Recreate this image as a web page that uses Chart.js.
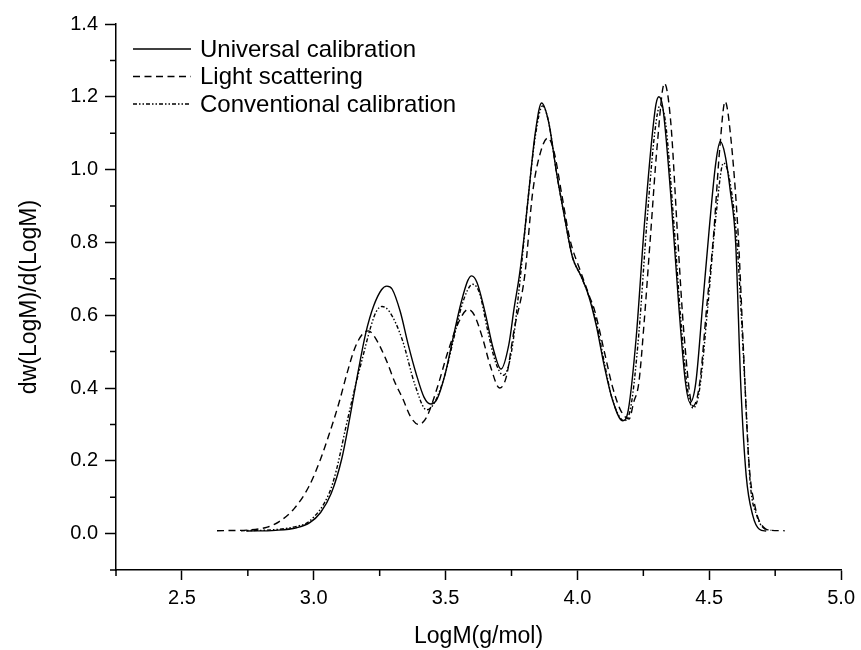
<!DOCTYPE html>
<html>
<head>
<meta charset="utf-8">
<script src="https://cdn.jsdelivr.net/npm/chart.js@4.4.0/dist/chart.umd.min.js"></script>
<style>
  html, body { margin: 0; padding: 0; background: #fff; }
  #wrap { width: 861px; height: 650px; }
</style>
</head>
<body>
<div id="wrap"><canvas id="chart" width="861" height="650"></canvas></div>
<script>
// series names (legend)
const seriesNames = ['Universal calibration', 'Light scattering', 'Conventional calibration'];

// Universal calibration (solid)
const universalX = [2.744, 2.855, 2.935, 2.985, 3.026, 3.066, 3.106, 3.136, 3.167, 3.197, 3.227, 3.257, 3.277, 3.297, 3.328, 3.358, 3.388, 3.418, 3.443,
  3.468, 3.499, 3.529, 3.559, 3.584, 3.599, 3.619, 3.649, 3.680, 3.710, 3.740, 3.760, 3.780, 3.800, 3.820, 3.840, 3.864, 3.891, 3.921, 3.951, 3.981,
  4.012, 4.042, 4.072, 4.102, 4.132, 4.171, 4.193, 4.223, 4.253, 4.283, 4.298, 4.309, 4.324, 4.354, 4.384, 4.409, 4.427, 4.449, 4.474, 4.499,
  4.525, 4.542, 4.560, 4.580, 4.600, 4.620, 4.640, 4.665, 4.690, 4.716];
const universalY = [0.007, 0.009, 0.016, 0.030, 0.058, 0.110, 0.205, 0.315, 0.440, 0.550, 0.625, 0.670, 0.680, 0.672, 0.610, 0.520, 0.440, 0.375, 0.356,
  0.370, 0.440, 0.540, 0.635, 0.695, 0.708, 0.690, 0.610, 0.510, 0.452, 0.520, 0.620, 0.710, 0.830, 0.970, 1.100, 1.183, 1.130, 0.990, 0.870, 0.760,
  0.710, 0.655, 0.570, 0.460, 0.370, 0.310, 0.340, 0.540, 0.840, 1.090, 1.180, 1.200, 1.170, 0.930, 0.630, 0.420, 0.360, 0.415, 0.620, 0.830,
  1.020, 1.077, 1.040, 0.940, 0.800, 0.400, 0.160, 0.050, 0.012, 0.007];

// Light scattering (dashed)
const lightX = [2.633, 2.754, 2.824, 2.869, 2.925, 2.982, 3.026, 3.058, 3.096, 3.126, 3.156, 3.187, 3.207, 3.227, 3.273, 3.308, 3.338, 3.368, 3.398,
  3.428, 3.468, 3.509, 3.549, 3.586, 3.609, 3.639, 3.670, 3.705, 3.730, 3.760, 3.800, 3.830, 3.861, 3.888, 3.911, 3.941, 3.971, 4.012, 4.045, 4.064,
  4.102, 4.132, 4.163, 4.196, 4.213, 4.233, 4.253, 4.277, 4.303, 4.330, 4.354, 4.380, 4.404, 4.438, 4.464, 4.490, 4.516, 4.540, 4.560, 4.580,
  4.610, 4.630, 4.650, 4.675, 4.705, 4.735, 4.786];
const lightY = [0.008, 0.010, 0.018, 0.033, 0.068, 0.130, 0.205, 0.272, 0.360, 0.440, 0.510, 0.550, 0.557, 0.545, 0.480, 0.415, 0.370, 0.320, 0.300,
  0.320, 0.400, 0.500, 0.580, 0.616, 0.600, 0.540, 0.460, 0.400, 0.430, 0.560, 0.708, 0.936, 1.050, 1.087, 1.050, 0.930, 0.810, 0.720, 0.653, 0.616,
  0.500, 0.406, 0.340, 0.315, 0.360, 0.415, 0.580, 0.817, 1.070, 1.237, 1.130, 0.817, 0.550, 0.350, 0.415, 0.620, 0.817, 1.060, 1.187, 1.100,
  0.817, 0.500, 0.200, 0.070, 0.018, 0.009, 0.008];

// Conventional calibration (dash-dot-dot)
const convX = [2.724, 2.855, 2.935, 2.985, 3.058, 3.086, 3.121, 3.156, 3.184, 3.217, 3.237, 3.259, 3.287, 3.335, 3.385, 3.428, 3.458, 3.499, 3.529,
  3.559, 3.584, 3.602, 3.629, 3.659, 3.690, 3.720, 3.750, 3.780, 3.810, 3.840, 3.868, 3.891, 3.921, 3.951, 3.981, 4.012, 4.042, 4.072, 4.102, 4.132,
  4.178, 4.203, 4.233, 4.263, 4.293, 4.314, 4.334, 4.364, 4.394, 4.419, 4.439, 4.464, 4.494, 4.525, 4.554, 4.575, 4.605, 4.635, 4.655, 4.680,
  4.705, 4.735];
const convY = [0.008, 0.011, 0.020, 0.035, 0.110, 0.175, 0.290, 0.400, 0.480, 0.570, 0.610, 0.624, 0.610, 0.534, 0.406, 0.340, 0.360, 0.440, 0.530,
  0.620, 0.670, 0.685, 0.660, 0.560, 0.470, 0.435, 0.500, 0.680, 0.900, 1.090, 1.175, 1.130, 0.990, 0.870, 0.760, 0.710, 0.655, 0.580, 0.470, 0.370,
  0.310, 0.350, 0.550, 0.850, 1.100, 1.178, 1.130, 0.870, 0.570, 0.390, 0.345, 0.400, 0.620, 0.870, 1.018, 0.980, 0.800, 0.415, 0.142, 0.050,
  0.016, 0.009];

// axis ranges
const xMin = 2.25, xMax = 5.0, xStep = 0.25;
const yMin = -0.1, yMax = 1.4, yStep = 0.1;

const FONT = '"Liberation Sans", Arial, Helvetica, sans-serif';
const dashes = [[], [7, 4.5], [4, 2, 1.5, 2, 1.5, 2]];

function toPoints(xs, ys) {
  return xs.map((x, i) => ({ x: x, y: ys[i] }));
}

const isMajorX = v => Math.abs(v * 2 - Math.round(v * 2)) < 1e-6;
const isMajorY = v => Math.round(v * 10) % 2 === 0;

// minor ticks (shorter) + legend inside plot
const extrasPlugin = {
  id: 'extras',
  afterDraw(chart) {
    const ctx = chart.ctx;
    const xs = chart.scales.x, ys = chart.scales.y;
    ctx.save();
    ctx.strokeStyle = '#000';
    ctx.lineWidth = 1.5;
    ctx.beginPath();
    xs.ticks.forEach(t => {
      if (isMajorX(t.value)) return;
      const px = xs.getPixelForValue(t.value);
      ctx.moveTo(px, xs.top);
      ctx.lineTo(px, xs.top + 6);
    });
    ys.ticks.forEach(t => {
      if (isMajorY(t.value)) return;
      const py = ys.getPixelForValue(t.value);
      ctx.moveTo(ys.right, py);
      ctx.lineTo(ys.right - 6, py);
    });
    ctx.stroke();

    // legend
    const rows = [49, 76.5, 104];
    ctx.font = '24px ' + FONT;
    ctx.fillStyle = '#000';
    ctx.textBaseline = 'middle';
    chart.data.datasets.forEach((ds, i) => {
      ctx.beginPath();
      ctx.lineWidth = 1.4;
      ctx.setLineDash(ds.borderDash);
      ctx.moveTo(133, rows[i]);
      ctx.lineTo(191, rows[i]);
      ctx.stroke();
      ctx.setLineDash([]);
      ctx.fillText(ds.label, 200, rows[i] + 1);
    });
    ctx.restore();
  }
};

const datasets = [
  toPoints(universalX, universalY),
  toPoints(lightX, lightY),
  toPoints(convX, convY)
].map((pts, i) => ({
  label: seriesNames[i],
  data: pts,
  borderColor: '#000',
  borderWidth: 1.4,
  borderDash: dashes[i],
  pointRadius: 0,
  fill: false,
  cubicInterpolationMode: 'monotone'
}));

new Chart(document.getElementById('chart'), {
  type: 'line',
  data: { datasets: datasets },
  options: {
    responsive: false,
    animation: false,
    devicePixelRatio: 1,
    layout: { padding: { left: 0, top: 24, right: 16, bottom: 0 } },
    plugins: {
      legend: { display: false },
      tooltip: { enabled: false }
    },
    scales: {
      x: {
        type: 'linear',
        min: xMin,
        max: xMax,
        afterFit: s => { s.height = 80; },
        ticks: {
          stepSize: xStep,
          autoSkip: false,
          maxRotation: 0,
          padding: 6,
          color: '#000',
          font: { family: FONT, size: 20 },
          callback: v => isMajorX(v) ? v.toFixed(1) : ''
        },
        grid: {
          drawOnChartArea: false,
          drawTicks: true,
          tickLength: 10,
          tickWidth: 1.5,
          tickColor: c => isMajorX(c.tick.value) ? '#000' : 'rgba(0,0,0,0)'
        },
        border: { display: true, color: '#000', width: 1.5 },
        title: {
          display: true,
          text: 'LogM(g/mol)',
          color: '#000',
          font: { family: FONT, size: 23 },
          padding: { top: 0, bottom: 0 }
        }
      },
      y: {
        min: yMin,
        max: yMax,
        afterFit: s => { s.width = 116; },
        ticks: {
          stepSize: yStep,
          autoSkip: false,
          padding: 7,
          color: '#000',
          font: { family: FONT, size: 20 },
          callback: v => isMajorY(v) ? v.toFixed(1) : ''
        },
        grid: {
          drawOnChartArea: false,
          drawTicks: true,
          tickLength: 11,
          tickWidth: 1.5,
          tickColor: c => isMajorY(c.tick.value) ? '#000' : 'rgba(0,0,0,0)'
        },
        border: { display: true, color: '#000', width: 1.5 },
        title: {
          display: true,
          text: 'dw(LogM)/d(LogM)',
          color: '#000',
          font: { family: FONT, size: 23 },
          padding: { top: 16, bottom: 0 }
        }
      }
    }
  },
  plugins: [extrasPlugin]
});
</script>
</body>
</html>
